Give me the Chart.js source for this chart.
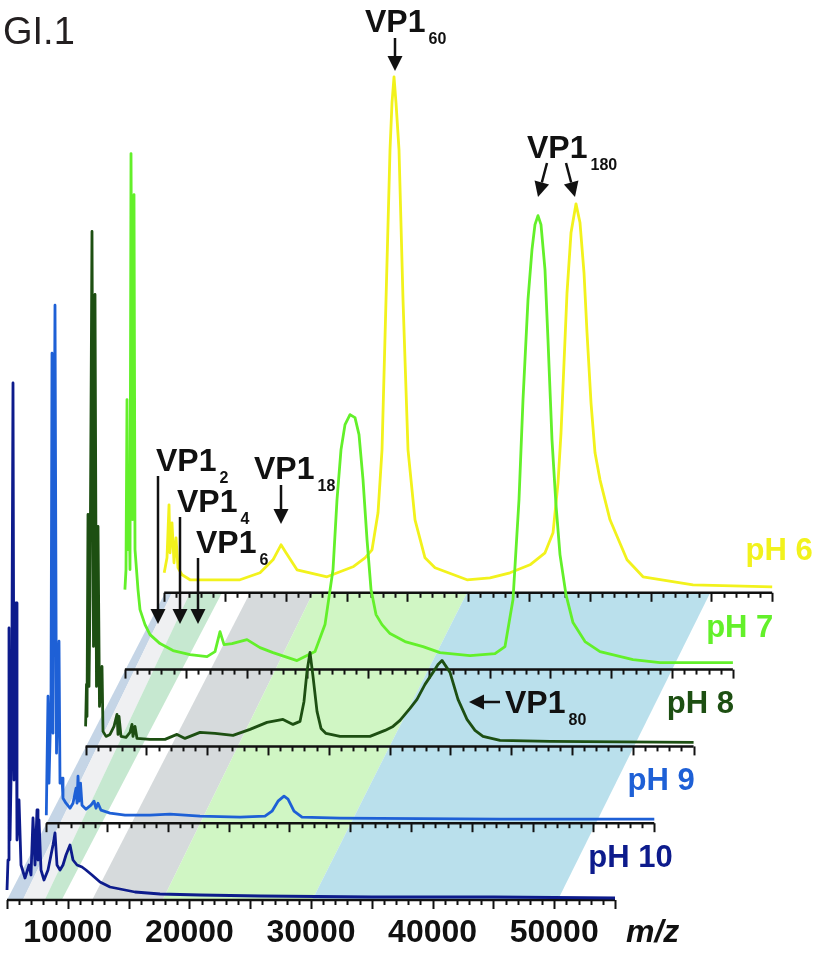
<!DOCTYPE html>
<html lang="en">
<head>
  <meta charset="UTF-8" />
  <title>GI.1 native MS, pH series</title>
  <script src="https://cdn.jsdelivr.net/npm/chart.js"></script>
  <style>
    body {
      margin: 0;
      background-color: #fff;
    }
    #wrap {
      width: 822px;
      height: 955px;
    }
  </style>
</head>
<body>
  <div id="wrap"><canvas id="msChart" width="822" height="955"></canvas></div>

  <script>
    // m/z range of every stacked axis and the labelled ticks of the bottom one
    const axisMin = 5000;
    const axisMax = 55000;
    const tickLabels = [10000, 20000, 30000, 40000, 50000];

    // each spectrum sits one step right (m/z) and one step up (a.u.) from the one below
    const stepMz = 3232;
    const stepY = 76.8;

    const phLabels = ['pH 10', 'pH 9', 'pH 8', 'pH 7', 'pH 6'];
    const phColors = ['#0d1b8c', '#1e60d6', '#1d4f12', '#63f02a', '#f2f21c'];

    // pH 10
    const mz10 = [5000, 5082, 5164, 5247, 5370, 5493, 5576, 5740, 5822, 5987, 6151, 6480, 6809, 6974, 7138, 7303, 7467, 7549, 7632, 7796, 8043, 8372, 8619, 8783, 8948, 9112, 9359, 9605, 9852, 10181, 10428, 10757, 11168, 11497, 11990, 12648, 13471, 14293, 15526, 17582, 20872, 25807, 35000, 45000, 55000];
    const int10 = [10, 40, 272, 60, 150, 517, 120, 297, 60, 100, 35, 22, 35, 25, 82, 35, 90, 40, 80, 30, 20, 30, 45, 55, 67, 35, 30, 35, 45, 55, 40, 35, 33, 30, 25, 18, 13, 11, 8, 6, 5, 4, 3, 3, 2];

    // pH 9
    const mz9 = [5000, 5140, 5222, 5387, 5469, 5551, 5715, 5839, 6044, 6127, 6291, 6373, 6620, 6949, 7196, 7443, 7525, 7607, 7689, 7813, 7936, 8265, 8676, 8923, 9087, 9252, 9499, 10239, 11473, 13529, 15174, 17641, 20930, 22986, 23562, 24055, 24549, 24878, 25371, 26029, 29154, 42312, 55000];
    const int9 = [8, 127, 40, 125, 470, 90, 518, 70, 182, 40, 45, 25, 20, 15, 20, 35, 20, 47, 22, 40, 18, 14, 18, 22, 15, 20, 13, 10, 8, 8, 9, 7, 6, 7, 12, 22, 27, 24, 12, 6, 5, 4, 4];

    // pH 8
    const mz8 = [5000, 5074, 5115, 5197, 5280, 5362, 5526, 5650, 5773, 5896, 6020, 6143, 6349, 6431, 6678, 7007, 7336, 7582, 7665, 7747, 7912, 8323, 8652, 8816, 8898, 9063, 9227, 10296, 11530, 12517, 13175, 14408, 15642, 17122, 18520, 19918, 21234, 22056, 22632, 22961, 23208, 23454, 23701, 24030, 24359, 24770, 25921, 28388, 29622, 30280, 30855, 31678, 32253, 32911, 33569, 33980, 34309, 34638, 34967, 35625, 36365, 37023, 37681, 39079, 43191, 55000];
    const int8 = [20, 62, 30, 232, 60, 150, 515, 100, 452, 60, 220, 40, 80, 15, 10, 12, 20, 32, 12, 30, 10, 9, 14, 22, 10, 20, 8, 7, 7, 12, 8, 14, 13, 11, 17, 24, 27, 22, 25, 45, 75, 94, 70, 35, 18, 13, 10, 10, 16, 20, 26, 38, 47, 62, 74, 82, 86, 80, 74, 47, 27, 16, 10, 6, 5, 4];

    // pH 7
    const mz7 = [5000, 5090, 5173, 5255, 5337, 5419, 5502, 5625, 5748, 5831, 5954, 6077, 6242, 6653, 7064, 7887, 8956, 10354, 11752, 12410, 12821, 13150, 13808, 15042, 16111, 17180, 19154, 20634, 21456, 22114, 22443, 22772, 23101, 23512, 23923, 24252, 24581, 24911, 25240, 25651, 26144, 26802, 28035, 29515, 30913, 33380, 35436, 36258, 36916, 37410, 37739, 38150, 38478, 38724, 38971, 39218, 39547, 39793, 40122, 40451, 40780, 41274, 41849, 42836, 44070, 46783, 49004, 55000];
    const int7 = [80, 100, 270, 120, 190, 100, 516, 150, 475, 120, 100, 80, 60, 45, 35, 26, 19, 15, 13, 18, 38, 25, 26, 30, 22, 17, 9, 18, 45, 100, 170, 220, 245, 255, 252, 235, 190, 130, 80, 55, 45, 36, 28, 23, 17, 14, 16, 23, 70, 170, 270, 370, 420, 445, 454, 445, 400, 330, 230, 165, 115, 75, 47, 28, 18, 10, 7, 7];

    // pH 6
    const mz6 = [5000, 5230, 5395, 5477, 5641, 5806, 5970, 6135, 6464, 7122, 8767, 11234, 12879, 13948, 14606, 15017, 15921, 18389, 20527, 21514, 22090, 22583, 22912, 23241, 23570, 23734, 23899, 24063, 24310, 24639, 25050, 25626, 26448, 27271, 29902, 31794, 33439, 35083, 36317, 36975, 37386, 37633, 37880, 38126, 38455, 38866, 39195, 39524, 39771, 40100, 40429, 40840, 41662, 43061, 44376, 48488, 55000];
    const int6 = [20, 35, 88, 40, 70, 30, 55, 25, 18, 13, 13, 13, 20, 33, 48, 40, 23, 16, 26, 35, 43, 80, 143, 293, 443, 490, 516, 490, 443, 293, 143, 73, 35, 25, 13, 15, 20, 28, 40, 60, 110, 160, 230, 300, 360, 389, 370, 320, 260, 190, 140, 113, 73, 33, 16, 8, 6];

    // shaded oligomer windows: m/z edges on the bottom (pH 10) axis and on the top (pH 6) axis
    const bandBottomFrom = [5000, 6300, 8100, 12000, 17800, 30100];
    const bandBottomTo = [6300, 8100, 9500, 17800, 30100, 50300];
    const bandTopFrom = [5070, 5640, 7120, 12060, 17240, 29900];
    const bandTopTo = [5640, 7120, 9750, 17240, 29900, 49900];
    const bandColors = ['#c5d5e6', '#eff0f2', '#c6e8d0', '#d6dadc', '#d0f6c4', '#bae0ec'];

    const spectraMz = [mz10, mz9, mz8, mz7, mz6];
    const spectraInt = [int10, int9, int8, int7, int6];

    function shifted(mz, vals, k) {
      return mz.map((m, i) => ({ x: m + k * stepMz, y: vals[i] + k * stepY }));
    }

    const FONT = '"Liberation Sans", Arial, sans-serif';

    function arrow(ctx, x1, y1, x2, y2) {
      const ang = Math.atan2(y2 - y1, x2 - x1);
      const len = 15, half = 7.5;
      const bx = x2 - len * Math.cos(ang), by = y2 - len * Math.sin(ang);
      ctx.beginPath();
      ctx.moveTo(x1, y1);
      ctx.lineTo(bx, by);
      ctx.lineWidth = 2.5;
      ctx.stroke();
      ctx.beginPath();
      ctx.moveTo(x2, y2);
      ctx.lineTo(bx + half * Math.sin(ang), by - half * Math.cos(ang));
      ctx.lineTo(bx - half * Math.sin(ang), by + half * Math.cos(ang));
      ctx.closePath();
      ctx.fill();
    }

    function vpLabel(ctx, x, y, sub) {
      ctx.font = 'bold 32px ' + FONT;
      ctx.fillText('VP1', x, y);
      const w = ctx.measureText('VP1').width;
      ctx.font = 'bold 16px ' + FONT;
      ctx.fillText(sub, x + w + 3, y + 12);
    }

    const bandsPlugin = {
      id: 'bands',
      beforeDatasetsDraw(chart) {
        const { ctx, scales: { x, y } } = chart;
        const top = 4;
        ctx.save();
        bandColors.forEach((c, i) => {
          ctx.beginPath();
          ctx.moveTo(x.getPixelForValue(bandBottomFrom[i]), y.getPixelForValue(0));
          ctx.lineTo(x.getPixelForValue(bandBottomTo[i]), y.getPixelForValue(0));
          ctx.lineTo(x.getPixelForValue(bandTopTo[i] + top * stepMz), y.getPixelForValue(top * stepY));
          ctx.lineTo(x.getPixelForValue(bandTopFrom[i] + top * stepMz), y.getPixelForValue(top * stepY));
          ctx.closePath();
          ctx.fillStyle = c;
          ctx.fill();
        });
        ctx.restore();
      }
    };

    const axesPlugin = {
      id: 'stackedAxes',
      beforeDatasetsDraw(chart) {
        const { ctx, scales: { x, y } } = chart;
        ctx.save();
        ctx.strokeStyle = '#111';
        for (let k = 0; k < 5; k++) {
          const y0 = y.getPixelForValue(k * stepY);
          ctx.lineWidth = 2.5;
          ctx.beginPath();
          ctx.moveTo(x.getPixelForValue(axisMin + k * stepMz), y0);
          ctx.lineTo(x.getPixelForValue(axisMax + k * stepMz), y0);
          ctx.stroke();
          ctx.lineWidth = 2;
          for (let m = axisMin; m <= axisMax; m += 1000) {
            const px = Math.round(x.getPixelForValue(m + k * stepMz)) + 0.5;
            const len = m % 5000 === 0 ? 9 : 5;
            ctx.beginPath();
            ctx.moveTo(px, y0);
            ctx.lineTo(px, y0 + len);
            ctx.stroke();
          }
        }
        ctx.restore();
      }
    };

    const textPlugin = {
      id: 'texts',
      afterDatasetsDraw(chart) {
        const { ctx, scales: { x, y } } = chart;
        ctx.save();
        ctx.textBaseline = 'alphabetic';

        // bottom axis numbers and unit
        ctx.fillStyle = '#111';
        ctx.font = 'bold 32px ' + FONT;
        ctx.textAlign = 'center';
        tickLabels.forEach(v => ctx.fillText(String(v), x.getPixelForValue(v), 942));
        ctx.textAlign = 'left';
        ctx.font = 'italic bold 32px ' + FONT;
        ctx.fillText('m/z', 626, 942);

        // pH names at the right end of each spectrum
        ctx.font = 'bold 31px ' + FONT;
        phLabels.forEach((t, k) => {
          ctx.fillStyle = phColors[k];
          ctx.fillText(t, x.getPixelForValue(52800 + k * stepMz), y.getPixelForValue(33 + k * stepY));
        });

        // panel title
        ctx.fillStyle = '#231f20';
        ctx.font = '38px ' + FONT;
        ctx.fillText('GI.1', 3, 44);

        // annotations
        ctx.fillStyle = '#111';
        ctx.strokeStyle = '#111';
        vpLabel(ctx, 365, 32, '60');
        arrow(ctx, 395, 38, 395, 71);
        vpLabel(ctx, 527, 158, '180');
        arrow(ctx, 547, 163, 538, 197);
        arrow(ctx, 566, 163, 575, 197);
        vpLabel(ctx, 254, 479, '18');
        arrow(ctx, 281, 485, 281, 524);
        vpLabel(ctx, 156, 471, '2');
        arrow(ctx, 158, 476, 158, 624);
        vpLabel(ctx, 177, 512, '4');
        arrow(ctx, 180, 517, 180, 624);
        vpLabel(ctx, 196, 553, '6');
        arrow(ctx, 198, 558, 198, 624);
        arrow(ctx, 500, 702, 469, 702);
        vpLabel(ctx, 505, 713, '80');
        ctx.restore();
      }
    };

    const ctx = document.getElementById('msChart').getContext('2d');
    new Chart(ctx, {
      type: 'line',
      data: {
        datasets: phLabels.map((name, k) => ({
          label: name,
          data: shifted(spectraMz[k], spectraInt[k], k),
          borderColor: phColors[k],
          borderWidth: 2.8,
          borderJoinStyle: 'round',
          pointRadius: 0,
          tension: 0,
          fill: false
        }))
      },
      options: {
        responsive: false,
        animation: false,
        devicePixelRatio: 1,
        layout: { padding: 0 },
        scales: {
          x: { type: 'linear', min: 4424, max: 72024, display: false },
          y: { type: 'linear', min: -55, max: 900, display: false }
        },
        plugins: {
          legend: { display: false },
          tooltip: { enabled: false }
        }
      },
      plugins: [bandsPlugin, axesPlugin, textPlugin]
    });
  </script>
</body>
</html>
